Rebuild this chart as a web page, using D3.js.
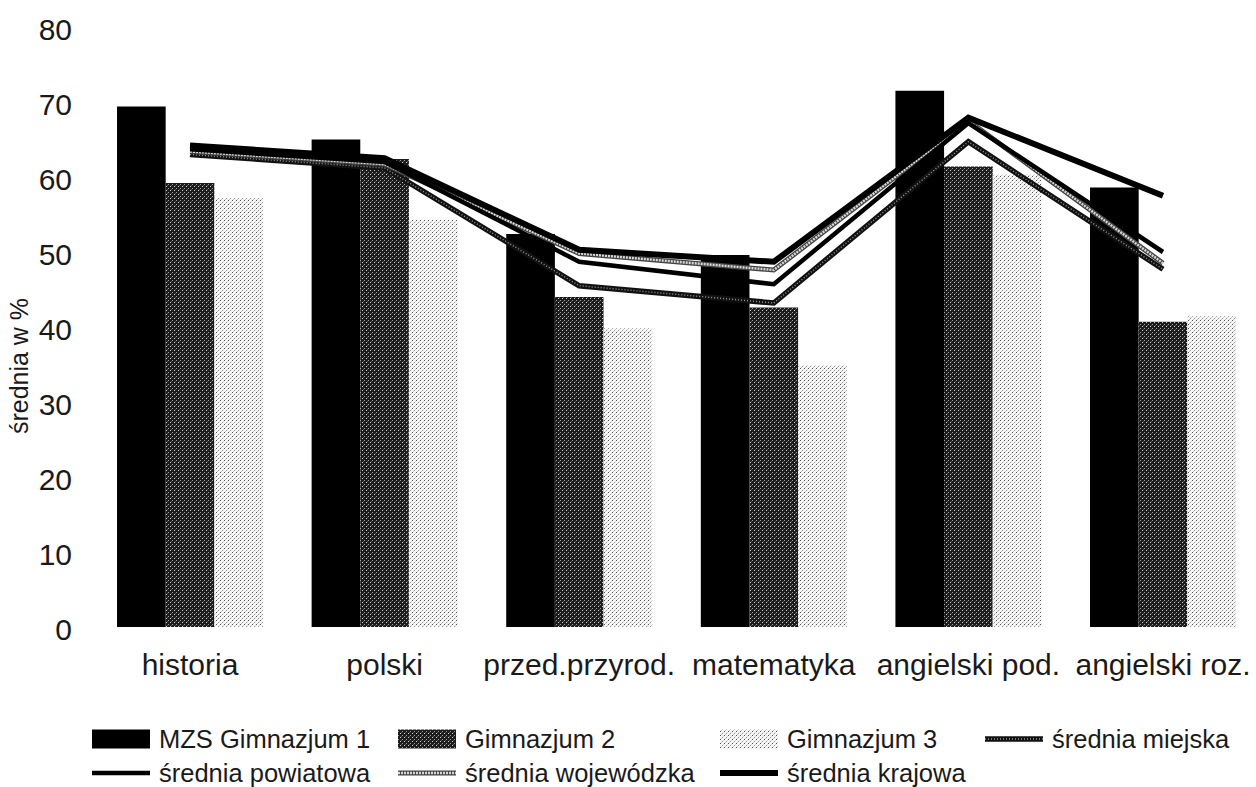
<!DOCTYPE html>
<html><head><meta charset="utf-8">
<script src="https://cdn.jsdelivr.net/npm/d3@7"></script>
<style>
html,body{margin:0;padding:0;background:#fff;}
text{font-family:"Liberation Sans",Arial,sans-serif;fill:#1a1a1a;}
</style></head>
<body>
<svg id="c" width="1256" height="787"></svg>
<script>
const categories = ["historia","polski","przed.przyrod.","matematyka","angielski pod.","angielski roz."];
const barSeries = ["MZS Gimnazjum 1","Gimnazjum 2","Gimnazjum 3"];
const gim1 = [69.4, 65.0, 52.4, 49.6, 71.5, 58.6];
const gim2 = [59.2, 62.4, 44.0, 42.6, 61.4, 40.7];
const gim3 = [57.2, 54.3, 39.8, 34.9, 60.3, 41.4];
const lineSeries = ["średnia miejska","średnia powiatowa","średnia wojewódzka","średnia krajowa"];
const miejska    = [63.0, 61.2, 45.5, 43.2, 64.7, 47.7];
const powiatowa  = [63.7, 62.0, 48.7, 45.7, 67.2, 50.0];
const wojewodzka = [63.4, 61.7, 49.8, 47.6, 67.5, 48.5];
const krajowa    = [64.2, 62.5, 50.3, 48.7, 67.9, 57.5];
const yTicks = [0,10,20,30,40,50,60,70,80];
const yTitle = "średnia w %";

const svg = d3.select("#c");
const defs = svg.append("defs");
// stipple patterns
const p2 = defs.append("pattern").attr("id","pg2").attr("patternUnits","userSpaceOnUse").attr("width",4).attr("height",4);
p2.append("rect").attr("width",4).attr("height",4).attr("fill","#1c1c1c");
p2.append("rect").attr("x",0).attr("y",0).attr("width",1).attr("height",1).attr("fill","#9a9a9a");
p2.append("rect").attr("x",2).attr("y",2).attr("width",1).attr("height",1).attr("fill","#d0d0d0");
p2.append("rect").attr("x",3).attr("y",1).attr("width",1).attr("height",1).attr("fill","#555");
const p3 = defs.append("pattern").attr("id","pg3").attr("patternUnits","userSpaceOnUse").attr("width",4).attr("height",4);
p3.append("rect").attr("width",4).attr("height",4).attr("fill","#f6f6f6");
p3.append("rect").attr("x",0).attr("y",0).attr("width",1).attr("height",1).attr("fill","#555");
p3.append("rect").attr("x",2).attr("y",2).attr("width",1).attr("height",1).attr("fill","#999");
p3.append("rect").attr("x",1).attr("y",3).attr("width",1).attr("height",1).attr("fill","#c4c4c4");
p3.append("rect").attr("x",3).attr("y",1).attr("width",1).attr("height",1).attr("fill","#d4d4d4");

const barFills = ["#000","url(#pg2)","url(#pg3)"];
const barData = [gim1,gim2,gim3];

const x = d3.scaleBand().domain(categories).range([92.7,1260.3]).padding(0);
const xs = d3.scaleBand().domain(barSeries).range([0,x.bandwidth()]).paddingInner(0).paddingOuter(0.5);
const y = d3.scaleLinear().domain([0,80]).range([627,27]);

// bars
barSeries.forEach((s,si)=>{
  svg.append("g").selectAll("rect").data(categories).join("rect")
    .attr("x",(c)=>x(c)+xs(s))
    .attr("y",(c,i)=>y(barData[si][i]))
    .attr("width",xs.bandwidth())
    .attr("height",(c,i)=>y(0)-y(barData[si][i]))
    .attr("fill",barFills[si]);
});

// lines
const lineData = [miejska,powiatowa,wojewodzka,krajowa];
const lineStyles = [
  [{stroke:"#111",w:5.5},{stroke:"#999",w:1.4,dash:"1 2"}],
  [{stroke:"#000",w:4.5}],
  [{stroke:"#444",w:5},{stroke:"#d8d8d8",w:2.4,dash:"2 1"}],
  [{stroke:"#000",w:6}]
];
const line = d3.line().x((d,i)=>x(categories[i])+x.bandwidth()/2).y(d=>y(d));
const lineOrder = [0,2,1,3];
lineOrder.forEach(li=>{
  lineStyles[li].forEach(st=>{
    svg.append("path").datum(lineData[li]).attr("d",line)
      .attr("fill","none").attr("stroke",st.stroke).attr("stroke-width",st.w)
      .attr("stroke-linejoin","miter").attr("stroke-dasharray",st.dash||null);
  });
});

// y axis
const yAxis = d3.axisLeft(y).tickValues(yTicks).tickSize(0).tickPadding(0);
const gy = svg.append("g").attr("transform","translate(72,0)").call(yAxis);
gy.select(".domain").remove();
gy.selectAll("text").attr("font-size",30).attr("font-family","Liberation Sans, Arial, sans-serif").attr("fill","#1a1a1a").attr("dy","0.42em");

// x axis
const xAxis = d3.axisBottom(x).tickSize(0).tickPadding(26.7);
const gx = svg.append("g").attr("transform","translate(0,627)").call(xAxis);
gx.select(".domain").remove();
gx.selectAll("text").attr("font-size",30).attr("font-family","Liberation Sans, Arial, sans-serif").attr("fill","#1a1a1a");

// y title
svg.append("text").attr("transform","translate(28,366) rotate(-90)")
  .attr("text-anchor","middle").attr("font-size",25).text(yTitle);

// legend
const legendItems = [
  {name:barSeries[0],type:"bar",k:0,col:92,row:0},
  {name:barSeries[1],type:"bar",k:1,col:398,row:0},
  {name:barSeries[2],type:"bar",k:2,col:720,row:0},
  {name:lineSeries[0],type:"line",k:0,col:985,row:0},
  {name:lineSeries[1],type:"line",k:1,col:92,row:1},
  {name:lineSeries[2],type:"line",k:2,col:398,row:1},
  {name:lineSeries[3],type:"line",k:3,col:720,row:1}
];
const rowY = [739,773];
legendItems.forEach(it=>{
  const g = svg.append("g").attr("transform",`translate(${it.col},${rowY[it.row]})`);
  if(it.type==="bar"){
    g.append("rect").attr("x",0).attr("y",-9.5).attr("width",58).attr("height",19).attr("fill",barFills[it.k]);
  } else {
    lineStyles[it.k].forEach(st=>{
      g.append("line").attr("x1",0).attr("x2",58).attr("y1",0).attr("y2",0)
        .attr("stroke",st.stroke).attr("stroke-width",st.w).attr("stroke-dasharray",st.dash||null);
    });
  }
  g.append("text").attr("x",67).attr("y",0).attr("dy","0.35em").attr("font-size",25.5).text(it.name);
});
</script>
</body></html>
